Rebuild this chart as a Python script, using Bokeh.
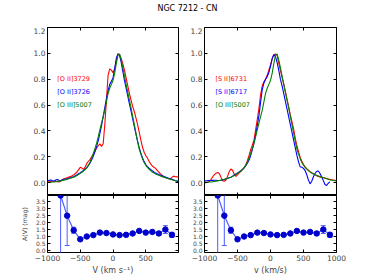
from bokeh.plotting import figure
from bokeh.models import Range1d, LinearAxis, FixedTicker, PrintfTickFormatter, ColumnDataSource
from bokeh.layouts import column, row
from bokeh.embed import file_html
from bokeh.resources import INLINE
from bokeh.core.properties import value

title_text = "NGC 7212 - CN"

vel = list(range(-1000, 1001, 25))

oii_3729 = [0.012, 0.010, 0.008, 0.010, 0.012, 0.010, 0.006, 0.004, 0.010,
            0.022, 0.030, 0.034, 0.038, 0.042, 0.046, 0.052, 0.060, 0.070,
            0.082, 0.100, 0.118, 0.112, 0.102, 0.120, 0.148, 0.165, 0.180,
            0.200, 0.222, 0.245, 0.268, 0.285, 0.300, 0.280, 0.300, 0.450,
            0.640, 0.830, 0.880, 0.870, 0.850, 0.880, 0.940, 0.995, 0.990,
            0.960, 0.920, 0.870, 0.810, 0.750, 0.690, 0.640, 0.590, 0.550,
            0.500, 0.450, 0.390, 0.330, 0.275, 0.235, 0.210, 0.190, 0.165,
            0.145, 0.128, 0.118, 0.110, 0.095, 0.080, 0.068, 0.055, 0.048,
            0.042, 0.035, 0.030, 0.028, 0.040, 0.050, 0.045, 0.044, 0.045]

oii_3726 = [0.012, 0.018, 0.020, 0.014, 0.010, 0.020, 0.024, 0.018, 0.016,
            0.020, 0.024, 0.027, 0.030, 0.033, 0.037, 0.042, 0.047, 0.053,
            0.060, 0.068, 0.076, 0.085, 0.094, 0.104, 0.116, 0.132, 0.152,
            0.176, 0.205, 0.240, 0.280, 0.325, 0.380, 0.440, 0.510, 0.580,
            0.650, 0.710, 0.760, 0.785, 0.810, 0.880, 0.960, 0.995, 0.985,
            0.930, 0.860, 0.790, 0.730, 0.670, 0.610, 0.555, 0.495, 0.435,
            0.375, 0.320, 0.270, 0.228, 0.192, 0.162, 0.140, 0.124, 0.112,
            0.102, 0.092, 0.083, 0.075, 0.068, 0.062, 0.057, 0.052, 0.047,
            0.042, 0.038, 0.034, 0.030, 0.025, 0.020, 0.015, 0.010, 0.006]

oiii_5007 = [0.000, 0.002, 0.003, 0.004, 0.005, 0.007, 0.009, 0.011, 0.013,
             0.016, 0.019, 0.022, 0.025, 0.029, 0.033, 0.037, 0.041, 0.047,
             0.054, 0.062, 0.071, 0.080, 0.090, 0.101, 0.114, 0.135, 0.160,
             0.190, 0.225, 0.265, 0.305, 0.355, 0.410, 0.460, 0.510, 0.560,
             0.625, 0.690, 0.730, 0.760, 0.790, 0.845, 0.920, 0.985, 0.995,
             0.950, 0.890, 0.825, 0.760, 0.700, 0.640, 0.580, 0.515, 0.450,
             0.385, 0.320, 0.260, 0.220, 0.185, 0.155, 0.135, 0.118, 0.104,
             0.092, 0.082, 0.074, 0.067, 0.061, 0.056, 0.051, 0.046, 0.042,
             0.038, 0.034, 0.030, 0.026, 0.022, 0.019, 0.016, 0.014, 0.012]

sii_6731 = [0.000, 0.000, 0.002, 0.010, 0.025, 0.045, 0.062, 0.072, 0.078,
            0.070, 0.040, 0.015, 0.010, 0.020, 0.050, 0.085, 0.105, 0.095,
            0.065, 0.048, 0.060, 0.075, 0.085, 0.100, 0.115, 0.135, 0.170,
            0.210, 0.255, 0.290, 0.330, 0.410, 0.490, 0.575, 0.680, 0.750,
            0.780, 0.800, 0.830, 0.870, 0.910, 0.955, 0.990, 0.995, 0.985,
            0.925, 0.870, 0.815, 0.765, 0.705, 0.645, 0.585, 0.525, 0.470,
            0.415, 0.345, 0.285, 0.240, 0.195, 0.165, 0.140, 0.122, 0.108,
            0.095, 0.085, 0.076, 0.068, 0.060, 0.052, 0.048, 0.044, 0.041,
            0.039, 0.036, 0.032, 0.028, 0.025, 0.022, 0.020, 0.018, 0.015]

sii_6717 = [0.012, 0.014, 0.015, 0.016, 0.016, 0.017, 0.018, 0.018, 0.016,
            0.016, 0.018, 0.021, 0.024, 0.028, 0.032, 0.037, 0.042, 0.050,
            0.058, 0.066, 0.074, 0.083, 0.092, 0.102, 0.114, 0.130, 0.150,
            0.175, 0.210, 0.255, 0.305, 0.370, 0.440, 0.520, 0.620, 0.720,
            0.770, 0.800, 0.820, 0.850, 0.900, 0.960, 0.990, 0.975, 0.930,
            0.870, 0.800, 0.750, 0.690, 0.630, 0.570, 0.510, 0.450, 0.390,
            0.330, 0.270, 0.210, 0.160, 0.122, 0.118, 0.110, 0.092, 0.060,
            0.020, -0.010, 0.010, 0.045, 0.070, 0.088, 0.090, 0.070, 0.045,
            0.015, -0.015, -0.022, -0.005, 0.005]

left_labels = ["[O II]3729", "[O II]3726", "[O III]5007"]
right_labels = ["[S II]6731", "[S II]6717", "[O III]5007"]

av_vel = [-800, -700, -600, -500, -400, -300, -200, -100, 0,
          100, 200, 300, 400, 500, 600, 700, 800, 900]
av = [3.95, 2.50, 1.45, 0.80, 1.00, 1.10, 1.28, 1.25, 1.15,
      1.10, 1.12, 1.22, 1.40, 1.28, 1.33, 1.22, 1.50, 1.12]
av_err = [4.50, 2.15, 0.22, 0.05, 0.05, 0.05, 0.05, 0.05, 0.05,
          0.05, 0.05, 0.05, 0.06, 0.06, 0.06, 0.12, 0.28, 0.18]

x_ticks = [-1000, -500, 0, 500, 1000]
top_y_ticks = [0.0, 0.2, 0.4, 0.6, 0.8, 1.0, 1.2]
bot_y_ticks = [0.0, 0.5, 1.0, 1.5, 2.0, 2.5, 3.0, 3.5]

FONT = "DejaVu Sans"
RED, BLUE, GREEN = "#ff0000", "#0000ff", "#008000"
colors = [RED, BLUE, GREEN]
x_over = {-1000: "\u22121000", -500: "\u2212500", 0: "0", 500: "500", 1000: "1000"}


def base_fig(fw, fh, bl, br, bt, bb, yr):
    p = figure(frame_width=fw, frame_height=fh,
               x_range=Range1d(-1000, 1000), y_range=Range1d(*yr),
               min_border_left=bl, min_border_right=br,
               min_border_top=bt, min_border_bottom=bb,
               output_backend="svg", toolbar_location=None, tools="")
    p.xgrid.visible = False
    p.ygrid.visible = False
    p.outline_line_color = "black"
    p.outline_line_width = 1
    p.background_fill_color = "white"
    p.border_fill_color = "white"
    p.add_layout(LinearAxis(), "above")
    p.add_layout(LinearAxis(), "right")
    return p


def style(ax, ticks, fs=None, fmt=None, overrides=None):
    ax.ticker = FixedTicker(ticks=ticks)
    if fmt is not None:
        ax.formatter = fmt
    if overrides is not None:
        ax.major_label_overrides = overrides
    ax.axis_line_color = None
    ax.major_tick_in = 3
    ax.major_tick_out = 0
    ax.major_tick_line_color = "black"
    ax.minor_tick_line_color = None
    ax.major_label_text_font = FONT
    if fs is None:
        # tick marks only: labels are not drawn and take no room
        ax.major_label_text_color = None
        ax.major_label_text_alpha = 0
        ax.major_label_text_font_size = "0px"
        ax.major_label_standoff = 0
    else:
        ax.major_label_text_font_size = fs
        ax.major_label_standoff = 2


def top_panel(fw, bl, br, series, labels, xs_list, label_x):
    p = base_fig(fw, 168, bl, br, 0, 0, (-0.1, 1.2))
    style(p.left[0], top_y_ticks, "7.5px", PrintfTickFormatter(format="%.1f"))
    style(p.right[0], top_y_ticks)
    style(p.below[0], x_ticks)
    style(p.above[0], x_ticks)
    for xs, ys, c in zip(xs_list, series, colors):
        p.line(xs, ys, line_color=c, line_width=1.1)
    src = ColumnDataSource(dict(x=[label_x] * 3, y=[0.8, 0.7, 0.6], t=labels, c=colors))
    p.text(x="x", y="y", text="t", text_color="c", source=src,
           text_font=value(FONT), text_font_size="6.5px", text_baseline="middle")
    return p


def bottom_panel(fw, bl, br, xlabel, ylabel, overrides):
    p = base_fig(fw, 57, bl, br, 0, 26, (-0.15, 3.95))
    style(p.left[0], bot_y_ticks, "6px", PrintfTickFormatter(format="%.1f"))
    style(p.right[0], bot_y_ticks)
    style(p.below[0], x_ticks, "7.5px", None, overrides)
    style(p.above[0], x_ticks)
    ax = p.below[0]
    ax.axis_label = xlabel
    ax.axis_label_text_font = FONT
    ax.axis_label_text_font_size = "8px"
    ax.axis_label_text_font_style = "normal"
    ax.axis_label_standoff = 2
    if ylabel:
        ay = p.left[0]
        ay.axis_label = ylabel
        ay.axis_label_text_font = FONT
        ay.axis_label_text_font_size = "6.2px"
        ay.axis_label_text_font_style = "normal"
        ay.axis_label_standoff = 5
    lo = [a - e for a, e in zip(av, av_err)]
    hi = [a + e for a, e in zip(av, av_err)]
    src = ColumnDataSource(dict(x=av_vel, y=av, lo=lo, hi=hi))
    light = "#4d5cff"
    p.segment(x0="x", y0="lo", x1="x", y1="hi", source=src, line_color=light, line_width=1)
    p.scatter(x="x", y="lo", source=src, marker="dash", size=5, line_color=light, line_width=1)
    p.scatter(x="x", y="hi", source=src, marker="dash", size=5, line_color=light, line_width=1)
    p.line(x="x", y="y", source=src, line_color=light, line_width=1.2)
    p.scatter(x="x", y="y", source=src, marker="circle", size=5.5,
              fill_color="#0000cc", line_color="#0000cc")
    return p


title_fig = figure(width=366, height=27, x_axis_type=None, y_axis_type=None,
                   x_range=Range1d(0, 366), y_range=Range1d(0, 27), min_border=0,
                   output_backend="svg", toolbar_location=None, tools="")
title_fig.outline_line_color = None
title_fig.xgrid.visible = False
title_fig.ygrid.visible = False
title_fig.text(x=[187], y=[19], text=[title_text], text_align="center", text_baseline="middle",
               text_font=value(FONT), text_font_size="8px", text_color="black")

vel_b = vel[:len(sii_6717)]
tl = top_panel(131, 47, 3, [oii_3729, oii_3726, oiii_5007], left_labels, [vel, vel, vel], -850)
tr = top_panel(132, 23, 30, [sii_6731, sii_6717, oiii_5007], right_labels, [vel, vel_b, vel], -835)
left_over = dict(x_over)
left_over[1000] = ""
bl_ = bottom_panel(131, 47, 3, "V (km s\u207b\u00b9)", "A(V) (mag)", left_over)
br_ = bottom_panel(132, 23, 30, "v (km/s)", None, x_over)

layout = column(title_fig, row(column(tl, bl_), column(tr, br_)))

open("out.html", "w").write(file_html(layout, INLINE))
